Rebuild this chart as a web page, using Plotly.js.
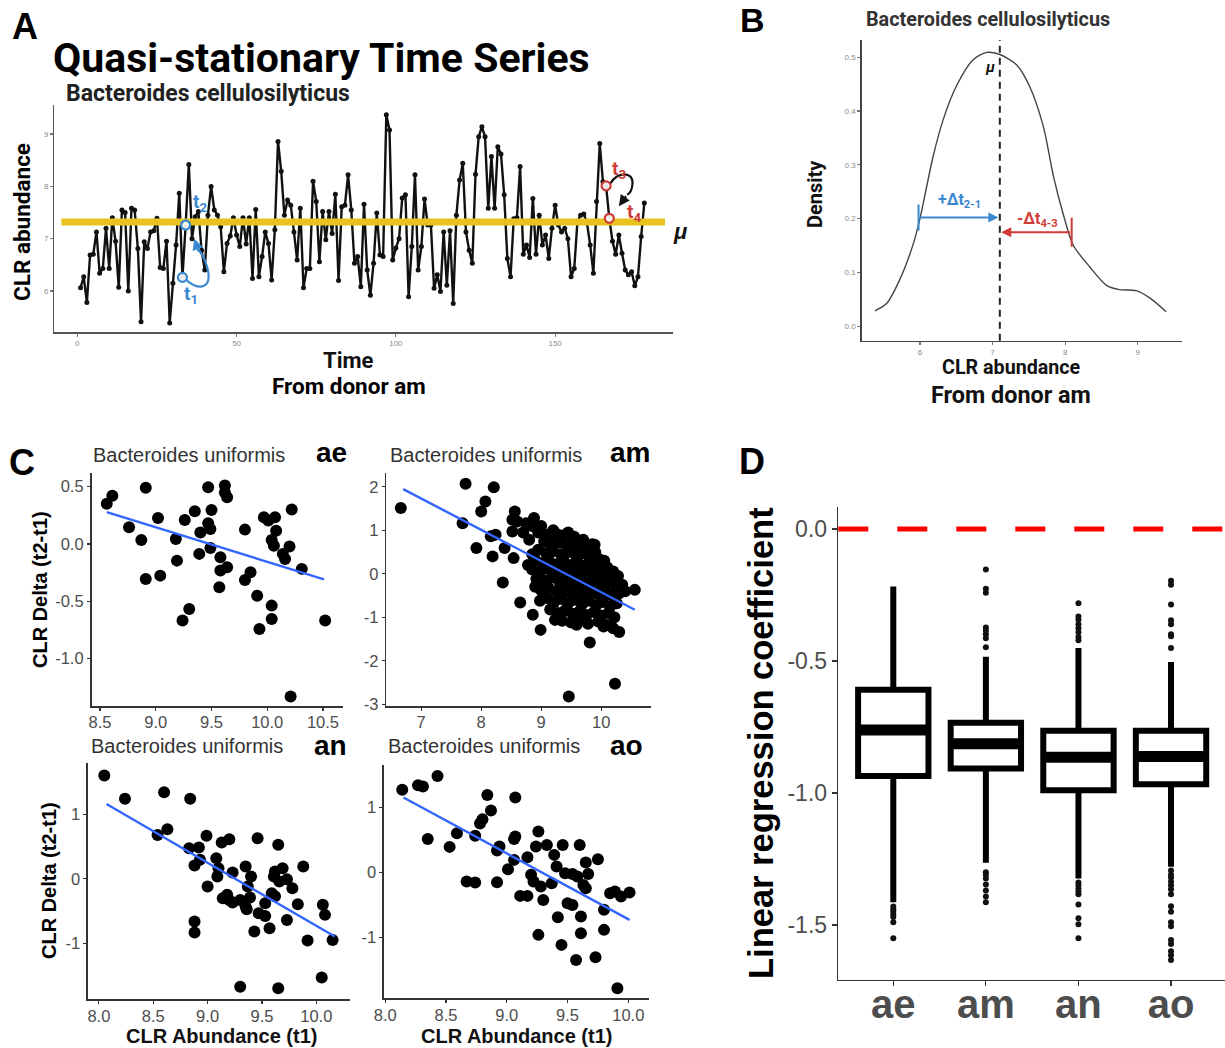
<!DOCTYPE html>
<html><head><meta charset="utf-8">
<script src="https://cdn.plot.ly/plotly-3.0.1.min.js"></script>
<style>html,body{margin:0;padding:0;background:#fff}</style>
</head><body><div id="chart" style="width:1225px;height:1048px"></div>
<script>
// ---------------- DATA ----------------
// Panel A: time series of Bacteroides cellulosilyticus CLR abundance (donor am)
const tsValues = [6.06,6.27,5.78,6.69,6.70,7.13,6.34,6.43,7.20,6.43,
  7.40,6.95,6.07,7.55,7.50,6.00,7.58,7.55,6.81,5.41,
  6.94,6.81,7.13,7.15,7.39,6.45,6.43,6.95,5.39,6.15,
  6.88,7.87,6.26,7.26,8.42,7.00,7.42,7.52,6.78,6.40,
  7.45,8.00,7.55,7.45,7.23,6.37,6.91,7.05,7.40,7.07,
  6.85,7.40,6.90,7.40,6.24,7.56,6.27,6.66,7.13,6.91,
  6.21,7.17,8.86,8.29,7.45,7.74,7.64,7.13,6.59,7.58,
  6.06,6.43,6.43,8.10,7.71,6.56,7.52,6.98,7.52,7.10,
  7.85,6.20,7.61,7.64,8.22,7.55,6.53,6.66,6.08,7.66,
  6.40,5.92,6.53,7.49,6.69,6.66,9.37,9.08,6.59,6.82,
  7.00,7.78,7.84,5.89,6.85,8.22,6.40,6.85,7.76,7.26,
  7.26,6.05,6.31,5.99,7.13,6.11,7.15,5.76,7.45,8.12,
  8.44,7.13,6.78,6.53,8.23,8.95,9.14,8.95,7.58,8.57,
  7.58,8.76,8.62,7.84,6.62,6.27,7.38,7.40,8.38,6.70,
  6.88,6.64,7.77,6.70,7.45,6.88,7.07,6.62,7.20,7.64,
  7.26,7.13,7.20,7.00,6.27,6.43,7.33,7.45,7.47,7.30,
  6.88,6.34,7.71,8.82,8.09,8.01,7.39,6.95,6.70,7.07,
  6.72,6.40,6.31,6.37,6.10,6.27,7.04,7.68];
const tsTime = tsValues.map((v, i) => i + 1);
const tsMean = 7.32;                 // mu (yellow line)
const tsMeanSpan = [-5, 184.5];      // extent of the yellow line in time units
const tsTicksX = [0, 50, 100, 150];
const tsTicksY = [6, 7, 8, 9];
const markIdx = {t1: 32, t2: 33, t3: 165, t4: 166};

// Panel B: density of CLR abundance
const densX = [5.38,5.54,5.72,5.91,6.00,6.18,6.32,6.50,6.73,6.92,7.10,7.33,7.51,7.70,7.84,7.97,8.11,8.34,8.57,8.75,8.98,9.17,9.39];
const densY = [0.0285,0.042,0.086,0.154,0.200,0.315,0.384,0.446,0.495,0.509,0.505,0.486,0.446,0.371,0.278,0.210,0.151,0.110,0.076,0.068,0.066,0.052,0.027];
const densMu = 7.10;
const densTicksX = [6, 7, 8, 9];
const densTicksY = [0, 0.1, 0.2, 0.3, 0.4, 0.5];
const densTickTextY = ['0.0','0.1','0.2','0.3','0.4','0.5'];
const deltaUp = {from: 5.98, to: 7.08, y: 0.202};
const deltaDown = {from: 8.09, to: 7.12, y: 0.1745};

// Panel C: Bacteroides uniformis, CLR delta vs abundance, four donors
const aePts = [[8.56,0.35],[8.61,0.42],[8.76,0.146],[8.87,0.035],[8.91,0.49],[8.91,-0.306],[9.02,0.227],[9.04,-0.277],
  [9.18,0.044],[9.19,-0.146],[9.26,0.21],[9.24,-0.67],[9.30,-0.568],[9.35,0.285],[9.39,-0.087],[9.40,0.10],
  [9.47,0.495],[9.47,0.18],[9.49,0.13],[9.50,0.297],[9.49,-0.035],[9.58,-0.116],[9.57,-0.378],[9.62,0.51],
  [9.62,0.45],[9.64,0.408],[9.58,-0.233],[9.64,-0.204],[9.80,0.125],[9.80,-0.315],[9.85,-0.248],[9.91,-0.452],
  [9.93,-0.743],[9.97,0.233],[10.01,0.204],[10.07,0.233],[10.04,-0.539],[10.04,-0.655],[10.04,0.035],[10.08,0.116],
  [10.06,-0.015],[10.14,-0.087],[10.20,-0.023],[10.16,-0.131],[10.22,0.30],[10.31,-0.218],[10.21,-1.334],[10.52,-0.67]];
const aeFit = {x: [8.56, 10.51], y: [0.277, -0.31]};

const amPts = [[6.66,1.51],[7.74,2.07],[8.21,1.99],[8.07,1.66],[8.00,1.43],[7.69,1.16],[7.92,0.59],[8.19,0.40],
  [8.24,0.90],[8.16,0.86],[8.36,-0.20],[8.56,1.43],[8.52,1.24],[8.52,0.97],[8.39,0.59],[8.54,0.36],
  [8.65,-0.66],[8.75,1.16],[8.88,1.28],[8.80,0.78],[8.86,-0.94],[8.99,-1.29],[9.23,-1.06],[9.46,-2.82],
  [9.81,-1.58],[10.23,-2.53],[10.56,-0.37],[10.30,-1.34],[10.04,-1.21],[9.89,0.67],[9.59,-1.17],
  [8.60,1.20],[8.70,0.95],[8.85,1.10],[8.95,0.95],[9.00,1.10],[9.10,0.90],[9.20,1.00],[8.85,0.45],[8.78,0.20],[8.90,-0.30],
  [9.25,0.92],[9.35,0.88],[9.45,0.95],[9.55,0.85],[9.70,0.78],[9.85,0.68],
  [9.05,0.75],[9.15,0.70],[9.30,0.72],[9.42,0.66],[9.52,0.74],[9.62,0.62],[9.75,0.58],[9.90,0.50],
  [8.95,0.55],[9.08,0.48],[9.20,0.52],[9.33,0.45],[9.46,0.50],[9.58,0.42],[9.68,0.47],[9.80,0.38],[9.95,0.35],[10.05,0.30],
  [8.90,0.32],[9.02,0.25],[9.13,0.30],[9.26,0.22],[9.38,0.28],[9.50,0.20],[9.61,0.26],[9.72,0.18],[9.84,0.22],[9.97,0.12],[10.10,0.15],[10.20,0.05],
  [8.85,0.10],[8.98,0.05],[9.10,0.12],[9.22,0.02],[9.34,0.08],[9.45,0.00],[9.57,0.06],[9.66,-0.02],[9.78,0.04],[9.90,-0.05],[10.02,0.00],[10.15,-0.10],[10.28,-0.05],
  [8.92,-0.12],[9.05,-0.15],[9.18,-0.08],[9.30,-0.18],[9.42,-0.12],[9.53,-0.20],[9.64,-0.14],[9.75,-0.22],[9.87,-0.16],[10.00,-0.25],[10.12,-0.20],[10.25,-0.30],[10.35,-0.25],
  [9.00,-0.38],[9.12,-0.32],[9.25,-0.40],[9.37,-0.34],[9.48,-0.42],[9.60,-0.36],[9.71,-0.45],[9.83,-0.38],[9.95,-0.46],[10.07,-0.40],[10.18,-0.50],[10.30,-0.45],[10.40,-0.40],
  [8.98,-0.62],[9.10,-0.56],[9.22,-0.65],[9.34,-0.58],[9.45,-0.68],[9.57,-0.60],[9.68,-0.70],[9.80,-0.62],[9.92,-0.72],[10.03,-0.65],[10.15,-0.75],[10.26,-0.68],
  [9.15,-0.82],[9.28,-0.90],[9.40,-0.84],[9.52,-0.92],[9.64,-0.86],[9.76,-0.95],[9.88,-0.88],[10.00,-0.96],[10.12,-0.90],[10.22,-1.00],
  [9.35,-1.08],[9.50,-1.12],[9.66,-1.05],[9.78,-1.15],[9.95,-1.10],[10.10,-1.18],[10.20,-1.25]];
const amFit = {x: [6.70, 10.56], y: [1.945, -0.827]};

const anPts = [[8.05,1.60],[8.24,1.24],[8.60,1.34],[8.84,1.24],[8.63,0.77],[8.54,0.68],[8.83,0.475],[8.92,0.486],
  [8.99,0.667],[8.88,0.207],[8.93,0.295],[9.08,0.32],[9.13,0.563],[9.20,0.615],[9.00,-0.119],[9.10,0.165],
  [9.09,0.036],[9.18,-0.248],[9.23,0.098],[9.23,-0.367],[9.20,-0.326],[9.30,-0.326],[9.35,0.19],[9.40,0.036],
  [9.37,-0.119],[9.36,-0.47],[9.39,-0.29],[9.46,0.63],[9.47,-0.532],[9.53,-0.574],[9.43,-0.817],[9.57,-0.765],
  [9.59,-0.222],[9.53,-0.377],[9.65,0.527],[9.62,0.114],[9.66,-0.041],[9.69,0.165],[9.73,-0.005],[9.78,-0.145],
  [9.73,-0.636],[9.83,-0.393],[9.88,0.19],[9.92,-0.956],[10.06,-0.403],[10.08,-0.558],[10.15,-0.946],[9.30,-1.67],
  [9.65,-1.695],[10.05,-1.53],[8.88,-0.66],[8.88,-0.83],[9.61,0.036],[9.35,-0.43],[9.14,-0.30],[9.62,-0.27]];
const anFit = {x: [8.07, 10.17], y: [1.16, -0.894]};

const aoPts = [[8.14,1.27],[8.27,1.34],[8.31,1.32],[8.43,1.48],[8.35,0.51],[8.53,0.39],[8.59,0.60],[8.74,0.56],
  [8.78,0.75],[8.80,0.815],[8.87,0.95],[8.84,1.19],[8.67,-0.144],[8.74,-0.159],[8.92,-0.154],[8.92,0.333],
  [8.94,0.395],[9.07,1.15],[9.07,0.55],[9.06,0.51],[9.01,0.046],[9.06,0.19],[9.11,-0.364],[9.17,-0.364],
  [9.17,0.23],[9.20,-0.04],[9.22,-0.144],[9.26,0.626],[9.24,0.395],[9.28,-0.22],[9.30,-0.426],[9.26,-0.964],
  [9.33,0.42],[9.37,-0.17],[9.39,0.267],[9.41,0.087],[9.42,-0.692],[9.46,0.42],[9.48,-0.015],[9.50,-0.477],
  [9.45,-1.118],[9.54,-0.503],[9.57,-1.349],[9.58,-0.067],[9.60,0.42],[9.61,-0.682],[9.61,-0.938],[9.63,-0.195],
  [9.65,0.149],[9.67,-0.026],[9.65,-0.246],[9.75,0.20],[9.73,-1.308],[9.80,-0.579],[9.80,-0.887],[9.85,-0.323],
  [9.91,-1.785],[9.94,-0.374],[10.01,-0.313],[9.89,-0.297],[9.54,-0.026]];
const aoFit = {x: [8.15, 10.01], y: [1.15, -0.733]};

// Panel D: distribution of linear regression coefficients per donor
const donors = ['ae', 'am', 'an', 'ao'];
const boxQ1 = [-0.936, -0.907, -0.990, -0.967];
const boxMedian = [-0.761, -0.813, -0.865, -0.862];
const boxQ3 = [-0.609, -0.734, -0.764, -0.764];
const boxLowerWhisker = [-1.414, -1.264, -1.324, -1.279];
const boxUpperWhisker = [-0.218, -0.484, -0.451, -0.504];
const outliersAe = [-1.43,-1.44,-1.45,-1.46,-1.47,-1.49,-1.55];
const outliersAm = [-0.153,-0.226,-0.241,-0.373,-0.384,-0.399,-0.414,-0.448,-1.30,-1.31,-1.324,-1.347,-1.369,-1.392,-1.414];
const outliersAn = [-0.281,-0.331,-0.343,-0.361,-0.376,-0.391,-0.409,-0.421,-1.339,-1.35,-1.362,-1.373,-1.384,-1.422,-1.475,-1.497,-1.55];
const outliersAo = [-0.196,-0.211,-0.286,-0.346,-0.361,-0.399,-0.406,-0.451,-1.294,-1.31,-1.32,-1.335,-1.35,-1.365,-1.384,-1.429,-1.45,-1.49,-1.505,-1.557,-1.572,-1.60,-1.615,-1.633];
const refLine = 0;
const dTicksY = [0, -0.5, -1.0, -1.5];
const dTickTextY = ['0.0', '-0.5', '-1.0', '-1.5'];

// ---------------- LAYOUT HELPERS ----------------
const W = 1225, H = 1048;
const px = v => v / W;
const py = v => 1 - v / H;
const FONT = 'Liberation Sans, Arial, sans-serif';
const RFONT = 'Roboto, Liberation Sans, Arial, sans-serif';
const BLUE = '#3a88d0', RED = '#cf3b36', GOLD = '#e8c21e', FIT = '#3366ff';

function baseAxis(extra) {
  return Object.assign({
    showline: true, linecolor: '#333', linewidth: 1.6, mirror: false,
    ticks: 'outside', ticklen: 3, tickwidth: 1.2, tickcolor: '#333',
    showgrid: false, zeroline: false, fixedrange: true,
    tickfont: {family: FONT, size: 16.5, color: '#4d4d4d'}
  }, extra);
}
const smallTick = {family: FONT, size: 8, color: '#8a8a8a'};
const cX = {ticklabelstandoff: -2};

const traces = [];
// Panel A
traces.push({x: tsTime, y: tsValues, xaxis: 'x', yaxis: 'y', type: 'scatter', mode: 'lines+markers',
  line: {color: '#111', width: 2.4}, marker: {color: '#111', size: 5}, hoverinfo: 'skip'});
traces.push({x: tsMeanSpan, y: [tsMean, tsMean], xaxis: 'x', yaxis: 'y', type: 'scatter', mode: 'lines',
  line: {color: GOLD, width: 7}, hoverinfo: 'skip'});
traces.push({x: [tsTime[markIdx.t1], tsTime[markIdx.t2]], y: [tsValues[markIdx.t1], tsValues[markIdx.t2]],
  xaxis: 'x', yaxis: 'y', type: 'scatter', mode: 'markers',
  marker: {symbol: 'circle', size: 9, color: 'rgba(255,255,255,0.9)', line: {color: BLUE, width: 2.2}}, hoverinfo: 'skip'});
traces.push({x: [tsTime[markIdx.t3], tsTime[markIdx.t4]], y: [tsValues[markIdx.t3], tsValues[markIdx.t4]],
  xaxis: 'x', yaxis: 'y', type: 'scatter', mode: 'markers',
  marker: {symbol: 'circle', size: 9, color: 'rgba(255,255,255,0.9)', line: {color: RED, width: 2.2}}, hoverinfo: 'skip'});
// Panel B
traces.push({x: densX, y: densY, xaxis: 'x2', yaxis: 'y2', type: 'scatter', mode: 'lines',
  line: {color: '#444', width: 1.4, shape: 'spline', smoothing: 0.8}, hoverinfo: 'skip'});
// Panel C
const cPanels = [[aePts, aeFit, 'x3', 'y3'], [amPts, amFit, 'x4', 'y4'], [anPts, anFit, 'x5', 'y5'], [aoPts, aoFit, 'x6', 'y6']];
cPanels.forEach(([pts, fit, xa, ya]) => {
  traces.push({x: pts.map(p => p[0]), y: pts.map(p => p[1]), xaxis: xa, yaxis: ya, type: 'scatter', mode: 'markers',
    marker: {color: '#000', size: 12}, hoverinfo: 'skip'});
  traces.push({x: fit.x, y: fit.y, xaxis: xa, yaxis: ya, type: 'scatter', mode: 'lines',
    line: {color: FIT, width: 2.4}, hoverinfo: 'skip'});
});
// Panel D
const BOXW = 0.76;
donors.forEach((d, i) => {
  traces.push({type: 'box', xaxis: 'x7', yaxis: 'y7', x: [i + 1], q1: [boxQ1[i]], median: [boxMedian[i]], q3: [boxQ3[i]],
    lowerfence: [boxLowerWhisker[i]], upperfence: [boxUpperWhisker[i]], width: BOXW, whiskerwidth: 0,
    boxpoints: false, fillcolor: '#fff', line: {color: '#000', width: 6}, hoverinfo: 'skip', showlegend: false});
  traces.push({type: 'scatter', mode: 'lines', xaxis: 'x7', yaxis: 'y7',
    x: [i + 1 - BOXW / 2 + 0.02, i + 1 + BOXW / 2 - 0.02], y: [boxMedian[i], boxMedian[i]],
    line: {color: '#000', width: 11}, hoverinfo: 'skip'});
});
[outliersAe, outliersAm, outliersAn, outliersAo].forEach((arr, i) => {
  traces.push({type: 'scatter', mode: 'markers', xaxis: 'x7', yaxis: 'y7',
    x: arr.map(() => i + 1), y: arr, marker: {color: '#111', size: 6}, hoverinfo: 'skip'});
});

// ---------------- ANNOTATIONS ----------------
const ann = [];
function txt(text, x, y, size, opts) {
  ann.push(Object.assign({text, x: px(x), y: py(y), xref: 'paper', yref: 'paper', showarrow: false,
    xanchor: 'center', yanchor: 'middle', font: {family: FONT, size, color: '#000'}}, opts || {}));
}
// panel letters
txt('<b>A</b>', 25, 26, 36);
txt('<b>B</b>', 752, 20, 34);
txt('<b>C</b>', 22, 462, 36);
txt('<b>D</b>', 752, 461, 36);
// panel A texts
txt('<b>Quasi-stationary Time Series</b>', 51, 58, 41, {xanchor: 'left', font: {family: RFONT, size: 41, color: '#000'}});
txt('<b>Bacteroides cellulosilyticus</b>', 64, 94, 23, {xanchor: 'left', font: {family: RFONT, size: 23, color: '#222'}});
txt('<b>CLR abundance</b>', 22, 222, 22.5, {textangle: -90, font: {family: RFONT, size: 22.5, color: '#000'}});
txt('<b>Time</b>', 348, 361, 22, {font: {family: RFONT, size: 22, color: '#111'}});
txt('<b>From donor am</b>', 349, 386, 22.5, {font: {family: RFONT, size: 22.5, color: '#000'}});
txt('<b><i>μ</i></b>', 680, 231, 22, {font: {family: FONT, size: 22, color: '#111'}});
// A markers labels (data coords)
function dtxt(text, x, y, xr, yr, color, size) {
  ann.push({text, x, y, xref: xr, yref: yr, showarrow: false, xanchor: 'center', yanchor: 'middle',
    font: {family: RFONT, size, color}});
}
dtxt('<b>t<sub>1</sub></b>', 35.6, 5.93, 'x', 'y', BLUE, 19);
dtxt('<b>t<sub>2</sub></b>', 38.6, 7.70, 'x', 'y', BLUE, 19);
dtxt('<b>t<sub>3</sub></b>', 170.2, 8.33, 'x', 'y', RED, 19);
dtxt('<b>t<sub>4</sub></b>', 174.6, 7.50, 'x', 'y', RED, 19);
// arrow heads for the curved arrows in A
ann.push({x: 36.7, y: 7.0, ax: 38.3, ay: 6.72, xref: 'x', yref: 'y', axref: 'x', ayref: 'y', text: '',
  showarrow: true, arrowhead: 2, arrowsize: 1, arrowwidth: 2.2, arrowcolor: BLUE});
ann.push({x: 170.0, y: 7.62, ax: 172.6, ay: 7.84, xref: 'x', yref: 'y', axref: 'x', ayref: 'y', text: '',
  showarrow: true, arrowhead: 2, arrowsize: 1, arrowwidth: 2.2, arrowcolor: '#111'});
// panel B texts
txt('<b>Bacteroides cellulosilyticus</b>', 988, 19, 19.8, {font: {family: RFONT, size: 19.8, color: '#333'}});
txt('<b>Density</b>', 815, 194, 20, {textangle: -90, font: {family: RFONT, size: 20, color: '#111'}});
txt('<b>CLR abundance</b>', 1011, 367, 19.7, {font: {family: RFONT, size: 19.7, color: '#111'}});
txt('<b>From donor am</b>', 1011, 395, 23.4, {font: {family: RFONT, size: 23.4, color: '#111'}});
dtxt('<b><i>μ</i></b>', 6.96, 0.482, 'x2', 'y2', '#111', 15);
dtxt('<b>+Δt<sub>2-1</sub></b>', 6.55, 0.233, 'x2', 'y2', BLUE, 16);
dtxt('<b>-Δt<sub>4-3</sub></b>', 7.62, 0.198, 'x2', 'y2', RED, 16);
ann.push({x: deltaUp.to, y: deltaUp.y, ax: deltaUp.from, ay: deltaUp.y, xref: 'x2', yref: 'y2', axref: 'x2', ayref: 'y2',
  text: '', showarrow: true, arrowhead: 2, arrowsize: 1, arrowwidth: 2, arrowcolor: BLUE});
ann.push({x: deltaDown.to, y: deltaDown.y, ax: deltaDown.from, ay: deltaDown.y, xref: 'x2', yref: 'y2', axref: 'x2', ayref: 'y2',
  text: '', showarrow: true, arrowhead: 2, arrowsize: 1, arrowwidth: 2, arrowcolor: RED});
// panel C texts
const cTitles = [[91, 455, 331, 453, 'ae'], [388, 455, 630, 453, 'am'], [89, 746, 330, 745, 'an'], [386, 746, 626, 745, 'ao']];
cTitles.forEach(([tx, ty, lx, ly, lab]) => {
  txt('Bacteroides uniformis', tx, ty, 20, {xanchor: 'left', font: {family: FONT, size: 20, color: '#333'}});
  txt('<b>' + lab + '</b>', lx, ly, 28);
});
txt('<b>CLR Delta (t2-t1)</b>', 40, 590, 20, {textangle: -90});
txt('<b>CLR Delta (t2-t1)</b>', 49, 881, 20, {textangle: -90});
txt('<b>CLR Abundance (t1)</b>', 221, 1036, 20, {font: {family: FONT, size: 20, color: '#111'}});
txt('<b>CLR Abundance (t1)</b>', 516, 1036, 20, {font: {family: FONT, size: 20, color: '#111'}});
// panel D texts
txt('<b>Linear regression coefficient</b>', 761, 743, 34.5, {textangle: -90});

// ---------------- SHAPES ----------------
const shapes = [
  // blue curved arrow t1 -> t2
  {type: 'path', xref: 'x', yref: 'y', path: 'M 34.4,6.2 C 38.5,6.0 42.5,6.05 40.8,6.45 C 40,6.65 38.8,6.72 38.0,6.8',
    line: {color: BLUE, width: 2.2}},
  // black curved arrow t3 -> t4
  {type: 'path', xref: 'x', yref: 'y', path: 'M 167.4,8.06 C 169.5,8.28 174.5,8.3 174.3,8.05 C 174.1,7.92 173.4,7.86 172.6,7.84',
    line: {color: '#111', width: 2.2}},
  // density mean line
  {type: 'line', xref: 'x2', yref: 'y2 domain', x0: densMu, x1: densMu, y0: 0, y1: 1,
    line: {color: '#222', width: 2, dash: '7px,5px'}},
  // delta bars
  {type: 'line', xref: 'x2', yref: 'y2', x0: deltaUp.from, x1: deltaUp.from, y0: deltaUp.y - 0.024, y1: deltaUp.y + 0.024,
    line: {color: BLUE, width: 2}},
  {type: 'line', xref: 'x2', yref: 'y2', x0: deltaDown.from, x1: deltaDown.from, y0: deltaDown.y - 0.027, y1: deltaDown.y + 0.027,
    line: {color: RED, width: 2}},
  // zero reference in D
  {type: 'line', xref: 'x7 domain', yref: 'y7', x0: 0, x1: 1, y0: refLine, y1: refLine,
    line: {color: '#ff0000', width: 5, dash: '30px,29px'}}
];

// ---------------- LAYOUT ----------------
const layout = {
  width: W, height: H, margin: {l: 0, r: 0, t: 0, b: 0}, paper_bgcolor: '#fff', plot_bgcolor: 'rgba(0,0,0,0)',
  showlegend: false, font: {family: FONT},
  xaxis: baseAxis({domain: [px(54.4), px(673)], range: [-7.2, 187], anchor: 'y', tickvals: tsTicksX,
    tickfont: smallTick, linecolor: '#555', tickcolor: '#777', ticklen: 3, linewidth: 1.4}),
  yaxis: baseAxis({domain: [py(332.3), py(105)], range: [5.21, 9.556], anchor: 'x', tickvals: tsTicksY,
    tickfont: smallTick, linecolor: '#555', tickcolor: '#777', ticklen: 3, linewidth: 1.4}),
  xaxis2: baseAxis({domain: [px(861.7), px(1181.7)], range: [5.197, 9.606], anchor: 'y2', tickvals: densTicksX,
    tickfont: smallTick, linecolor: '#444', tickcolor: '#777', ticklen: 3, linewidth: 1.4}),
  yaxis2: baseAxis({domain: [py(340.7), py(40)], range: [-0.027, 0.532], anchor: 'x2', tickvals: densTicksY,
    ticktext: densTickTextY, tickfont: smallTick, linecolor: '#444', tickcolor: '#777', ticklen: 3, linewidth: 1.4}),
  xaxis3: baseAxis(Object.assign({domain: [px(91.5), px(343)], range: [8.423, 10.68], anchor: 'y3',
    tickvals: [8.5, 9.0, 9.5, 10.0, 10.5], ticktext: ['8.5', '9.0', '9.5', '10.0', '10.5']}, cX)),
  yaxis3: baseAxis({domain: [py(706), py(473.3)], range: [-1.416, 0.617], anchor: 'x3',
    tickvals: [0.5, 0, -0.5, -1.0], ticktext: ['0.5', '0.0', '-0.5', '-1.0']}),
  xaxis4: baseAxis(Object.assign({domain: [px(386.4), px(651)], range: [6.42, 10.83], anchor: 'y4',
    tickvals: [7, 8, 9, 10], ticktext: ['7', '8', '9', '10']}, cX)),
  yaxis4: baseAxis({domain: [py(706), py(473.3)], range: [-3.04, 2.31], anchor: 'x4',
    tickvals: [2, 1, 0, -1, -2, -3], ticktext: ['2', '1', '0', '-1', '-2', '-3']}),
  xaxis5: baseAxis(Object.assign({domain: [px(88), px(350)], range: [7.90, 10.31], anchor: 'y5',
    tickvals: [8.0, 8.5, 9.0, 9.5, 10.0], ticktext: ['8.0', '8.5', '9.0', '9.5', '10.0']}, cX)),
  yaxis5: baseAxis({domain: [py(999.3), py(763.3)], range: [-1.866, 1.79], anchor: 'x5',
    tickvals: [1, 0, -1], ticktext: ['1', '0', '-1']}),
  xaxis6: baseAxis(Object.assign({domain: [px(384), px(649)], range: [7.99, 10.17], anchor: 'y6',
    tickvals: [8.0, 8.5, 9.0, 9.5, 10.0], ticktext: ['8.0', '8.5', '9.0', '9.5', '10.0']}, cX)),
  yaxis6: baseAxis({domain: [py(998.3), py(765)], range: [-1.94, 1.65], anchor: 'x6',
    tickvals: [1, 0, -1], ticktext: ['1', '0', '-1']}),
  xaxis7: baseAxis({domain: [px(838.3), 1], range: [0.406, 4.583], anchor: 'y7',
    tickvals: [1, 2, 3, 4], ticktext: donors.map(d => '<b>' + d + '</b>'), ticklen: 5, ticklabelstandoff: -16,
    tickfont: {family: FONT, size: 40, color: '#4d4d4d'}}),
  yaxis7: baseAxis({domain: [py(979.6), py(507.4)], range: [-1.707, 0.082], anchor: 'x7',
    tickvals: dTicksY, ticktext: dTickTextY, ticklen: 5, tickfont: {family: FONT, size: 23, color: '#4d4d4d'}}),
  annotations: ann,
  shapes: shapes
};

Plotly.newPlot('chart', traces, layout, {staticPlot: true, displayModeBar: false});
</script></body></html>
